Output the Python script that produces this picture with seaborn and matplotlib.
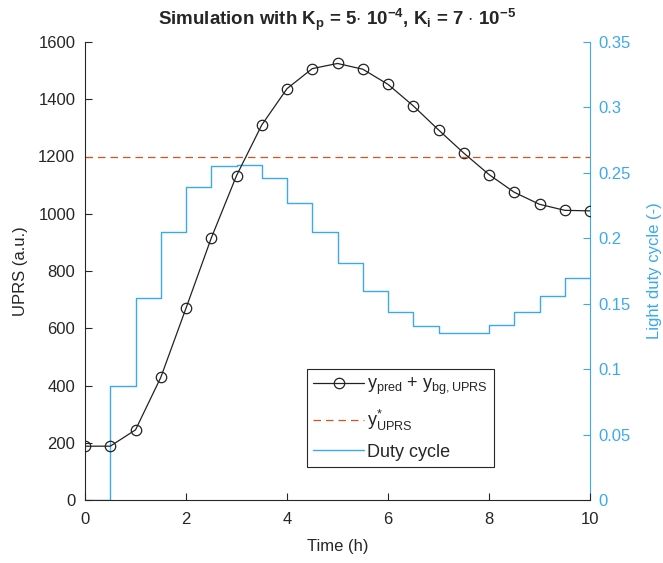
import numpy as np
import pandas as pd
import matplotlib
matplotlib.use("Agg")
import matplotlib.pyplot as plt
import seaborn as sns

# Simulation time grid (h)
time_h = [0, 0.5, 1, 1.5, 2, 2.5, 3, 3.5, 4, 4.5, 5, 5.5, 6, 6.5, 7, 7.5, 8, 8.5, 9, 9.5, 10]

# Predicted UPRS plus background (a.u.)
uprs_pred = [188, 188, 245, 428, 670, 915, 1133, 1310, 1437, 1507, 1525, 1505, 1452, 1377,
             1293, 1212, 1137, 1075, 1033, 1012, 1010]

# Target UPRS level
uprs_target = 1200

# Light duty cycle applied over each interval (stairs, post)
duty_cycle = [0.0, 0.087, 0.154, 0.205, 0.239, 0.255, 0.256, 0.246, 0.227, 0.205, 0.181,
              0.160, 0.144, 0.133, 0.128, 0.128, 0.134, 0.144, 0.156, 0.170, 0.170]

df = pd.DataFrame({"t": time_h, "uprs": uprs_pred, "duty": duty_cycle})

sns.set_style("white")
plt.rcParams["font.family"] = ["Liberation Sans", "DejaVu Sans"]
plt.rcParams["mathtext.fontset"] = "custom"
plt.rcParams["mathtext.rm"] = "Liberation Sans"
plt.rcParams["mathtext.it"] = "Liberation Sans"
plt.rcParams["mathtext.bf"] = "Liberation Sans:bold"

BLUE = "#3AA9EE"
ORANGE = "#D95319"
FS = 12

fig = plt.figure(figsize=(6.63, 5.63), dpi=100)
ax = fig.add_axes([85 / 663, 1 - 500 / 563, 505 / 663, 458 / 563])
ax2 = ax.twinx()

# Duty cycle on the right axis
sns.lineplot(data=df, x="t", y="duty", ax=ax2, drawstyle="steps-post", color=BLUE,
             linewidth=1.0, label="Duty cycle", legend=False)

# UPRS trajectory and target on the left axis
sns.lineplot(data=df, x="t", y="uprs", ax=ax, color="#222222", linewidth=0.9,
             marker="o", markersize=7.5, markerfacecolor="none", markeredgecolor="#222222",
             markeredgewidth=0.9, label=r"$\mathregular{y_{pred}}$ + $\mathregular{y_{bg,UPRS}}$",
             legend=False)
ax.axhline(uprs_target, color=ORANGE, linestyle=(0, (6, 4)), linewidth=0.9,
           label=r"$\mathregular{y^{*}_{UPRS}}$")

ax.set_xlim(0, 10)
ax.set_ylim(0, 1600)
ax2.set_ylim(0, 0.35)
ax.set_xticks(np.arange(0, 11, 2))
ax.set_yticks(np.arange(0, 1601, 200))
ax2.set_yticks(np.arange(0, 0.351, 0.05))
ax2.set_yticklabels(["0", "0.05", "0.1", "0.15", "0.2", "0.25", "0.3", "0.35"])

# Put the left axes above the twin so its lines draw on top
ax.set_zorder(ax2.get_zorder() + 1)
ax.patch.set_visible(False)

for a in (ax, ax2):
    a.spines["top"].set_visible(False)
ax.spines["right"].set_visible(False)
ax2.spines["left"].set_visible(False)
ax2.spines["bottom"].set_visible(False)
ax.spines["left"].set_color("#262626")
ax.spines["bottom"].set_color("#262626")
ax2.spines["right"].set_color(BLUE)
for sp in ("left", "bottom"):
    ax.spines[sp].set_linewidth(0.8)
ax2.spines["right"].set_linewidth(0.8)

ax.tick_params(axis="x", direction="in", length=5, width=0.8, labelsize=FS,
               colors="#262626", bottom=True, pad=9)
ax.tick_params(axis="y", direction="in", length=5, width=0.8, labelsize=FS,
               colors="#262626", left=True, pad=7)
ax2.tick_params(axis="y", direction="in", length=5, width=0.8, labelsize=FS,
                colors=BLUE, right=True, pad=6)

ax.set_xlabel("Time (h)", fontsize=FS, color="#262626", labelpad=8)
ax.set_ylabel("UPRS (a.u.)", fontsize=FS, color="#262626", labelpad=7)
ax2.set_ylabel("Light duty cycle (-)", fontsize=FS, color=BLUE, labelpad=12)

ax.set_title(r"Simulation with K$_\mathregular{p}$ = 5$\cdot$ 10$^{\mathregular{-4}}$, "
             r"K$_\mathregular{i}$ = 7 $\cdot$ 10$^{\mathregular{-5}}$",
             fontsize=13.5, fontweight="bold", pad=12)

h1, l1 = ax.get_legend_handles_labels()
h2, l2 = ax2.get_legend_handles_labels()
leg = ax.legend(h1 + h2, l1 + l2, loc="lower left", bbox_to_anchor=(222 / 505, 33 / 458),
                fontsize=13, frameon=True, fancybox=False, framealpha=1, edgecolor="#262626",
                handlelength=2.8, handletextpad=0.2, borderpad=0.35, labelspacing=0.6,
                borderaxespad=0)
leg.get_frame().set_linewidth(0.8)

fig.savefig("out.png", dpi=100)
